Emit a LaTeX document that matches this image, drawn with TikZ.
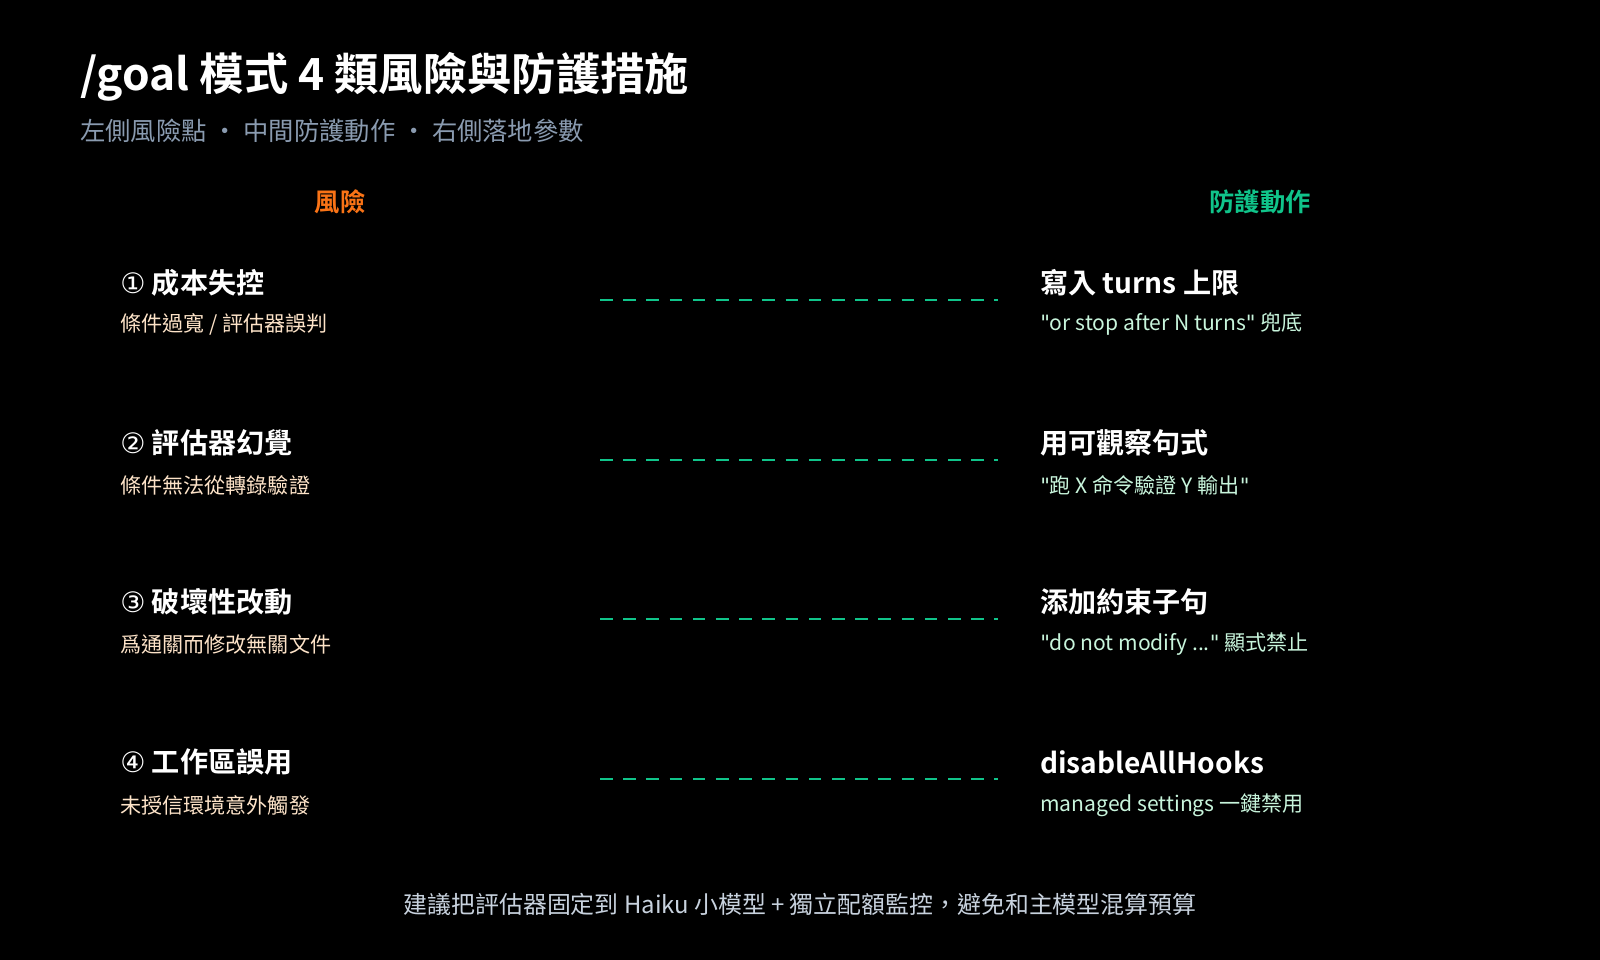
\documentclass[tikz,border=0pt]{standalone}
\usepackage{fontspec}
\setmainfont{Noto Sans CJK TC}
\newfontfamily\cjkbold{Noto Sans CJK TC Bold}
\newfontfamily\symfont{DejaVu Sans}
\newcommand\qt{{\symfont\symbol{34}}}
\definecolor{bgblack}{HTML}{000000}
\definecolor{subgray}{HTML}{8A9BB0}
\definecolor{riskorange}{HTML}{F97316}
\definecolor{guardgreen}{HTML}{10C48A}
\definecolor{riskpeach}{HTML}{FDE3C8}
\definecolor{guardmint}{HTML}{C8F5DC}
\definecolor{footgray}{HTML}{C8D2DE}
\begin{document}
\begin{tikzpicture}[x=0.025cm, y=-0.025cm,
    every node/.style={inner sep=0pt, anchor=west},
    titletext/.style={font=\cjkbold\fontsize{20}{22}\selectfont, text=white},
    risksub/.style={font=\fontsize{15}{17}\selectfont, text=riskpeach},
    guardsub/.style={font=\fontsize{15}{17}\selectfont, text=guardmint},
    link/.style={guardgreen, line width=2pt, dash pattern=on 9pt off 7.5pt}
    ]
    \fill[bgblack] (0,0) rectangle (1600,960);

    % Heading
    \node[text=white, font=\cjkbold\fontsize{31.5}{34}\selectfont] (title) at (80,77) {/goal 模式 4 類風險與防護措施};
    \node[text=subgray, font=\fontsize{18}{20}\selectfont] (subtitle) at (80,131) {左側風險點 · 中間防護動作 · 右側落地參數};
    \node[anchor=center, text=riskorange, font=\cjkbold\fontsize{18}{20}\selectfont] (riskhead) at (340,202) {風險};
    \node[anchor=center, text=guardgreen, font=\cjkbold\fontsize{18}{20}\selectfont] (guardhead) at (1260,202) {防護動作};

    % Risks
    \node[titletext] (r1) at (120,283) {{\symfont ①} 成本失控};
    \node[risksub] (r1s) at (120,324) {條件過寬 / 評估器誤判};
    \node[titletext] (r2) at (120,443) {{\symfont ②} 評估器幻覺};
    \node[risksub] (r2s) at (120,485) {條件無法從轉錄驗證};
    \node[titletext] (r3) at (120,602) {{\symfont ③} 破壞性改動};
    \node[risksub] (r3s) at (120,644) {爲通關而修改無關文件};
    \node[titletext] (r4) at (120,762) {{\symfont ④} 工作區誤用};
    \node[risksub] (r4s) at (120,805) {未授信環境意外觸發};

    % Guards
    \node[titletext] (g1) at (1040,283) {寫入 turns 上限};
    \node[guardsub] (g1s) at (1040,324) {\qt or stop after N turns\qt{} 兜底};
    \node[titletext] (g2) at (1040,443) {用可觀察句式};
    \node[guardsub] (g2s) at (1040,485) {\qt 跑 X 命令驗證 Y 輸出\qt};
    \node[titletext] (g3) at (1040,602) {添加約束子句};
    \node[guardsub] (g3s) at (1040,644) {\qt do not modify ...\qt{} 顯式禁止};
    \node[titletext] (g4) at (1040,762) {disableAllHooks};
    \node[guardsub] (g4s) at (1040,805) {managed settings 一鍵禁用};

    % Links
    \foreach \i/\y in {1/300,2/460,3/619,4/779} {
        \coordinate (a\i) at (600,\y);
        \coordinate (b\i) at (998,\y);
        \draw[link] (a\i) -- (b\i);
    }

    \node[anchor=center, text=footgray, font=\fontsize{17}{19}\selectfont] (footer) at (800,904) {建議把評估器固定到 Haiku 小模型 + 獨立配額監控，避免和主模型混算預算};
\end{tikzpicture}
\end{document}
